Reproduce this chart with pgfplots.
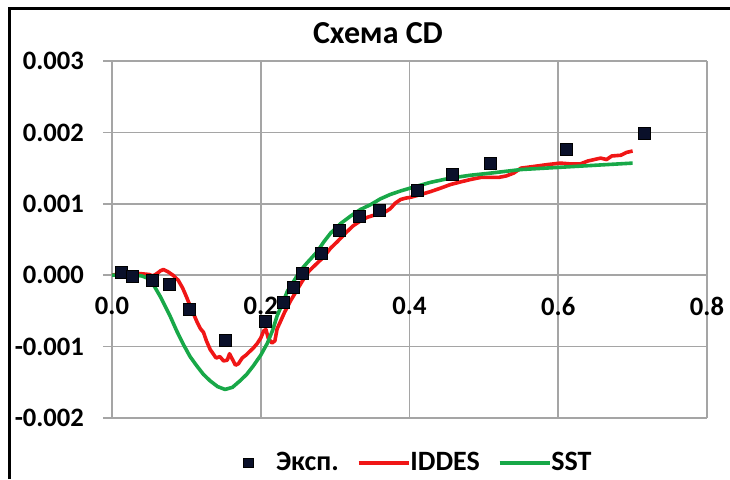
\documentclass[border=0pt]{standalone}
\usepackage{fontspec}
\setmainfont{Carlito}
\usepackage{pgfplots}
\pgfplotsset{compat=1.18}
\definecolor{redL}{RGB}{240,22,22}
\definecolor{greenL}{RGB}{24,168,72}
\definecolor{markC}{RGB}{10,16,42}
\definecolor{gridC}{RGB}{165,165,165}
\pgfplotsset{
  lineleg/.style={legend image code/.code={\draw[##1] (0pt,0pt) -- (25pt,0pt);}},
  markleg/.style={legend image code/.code={\path[draw=none,fill=none] (-5pt,0pt) -- (14pt,0pt); \path[draw=black, fill=markC, line width=0.4pt] (-2.4pt,-2.4pt) rectangle (2.4pt,2.4pt);}},
}
\begin{document}
\begin{tikzpicture}[x=1pt,y=1pt]
\path[use as bounding box] (0,0) rectangle (365,239.5);
\draw[line width=1.5pt] (4.5,0) -- (4.5,235.5) -- (365,235.5);
\node[font=\bfseries\fontsize{16}{16}\selectfont] at (189,223) {Схема CD};
\begin{axis}[
  at={(56pt,30.5pt)}, anchor=south west,
  scale only axis, width=297.5pt, height=178.5pt,
  xmin=0, xmax=0.8, ymin=-0.002, ymax=0.003,
  axis x line=middle, axis y line=left,
  axis line style={draw=gridC, line width=0.8pt, -},
  hide obscured x ticks=false, hide obscured y ticks=false,
  xtick={0,0.2,0.4,0.6,0.8},
  ytick={-0.002,-0.001,0,0.001,0.002,0.003},
  scaled ticks=false,
  grid=major, major grid style={draw=gridC, line width=0.8pt},
  tick align=outside, major tick length=4.5pt,
  x tick style={draw=none},
  y tick style={draw=gridC, line width=0.8pt},
  /pgf/number format/assume math mode=true,
  tick label style={font=\bfseries\fontsize{13.3}{13.3}\selectfont, text=black},
  xticklabel={\pgfmathprintnumber[fixed,fixed zerofill,precision=1]{\tick}},
  yticklabel={\pgfmathprintnumber[fixed,fixed zerofill,precision=3]{\tick}},
  x tick label style={yshift=-3pt},
  y tick label style={xshift=-6pt},
  legend columns=3,
  legend cell align=left,
  legend style={at={(0.212,-0.126)}, anchor=west, draw=none, fill=none,
    inner sep=0pt, outer sep=0pt,
    font=\bfseries\fontsize{14}{14}\selectfont,
    nodes={inner xsep=0pt, inner ysep=1pt},
    /tikz/every even column/.append style={column sep=9pt}},
]
\addplot[only marks, mark=square*, mark size=3pt, mark options={fill=markC, draw=black}, markleg] coordinates {
(0.013,0.00004) (0.028,-0.00001) (0.054,-0.00007) (0.077,-0.00013) (0.104,-0.00048)
(0.152,-0.00091) (0.206,-0.00064) (0.230,-0.00038) (0.244,-0.00017) (0.256,0.00002)
(0.281,0.00031) (0.306,0.00063) (0.333,0.00082) (0.360,0.00091) (0.410,0.00119)
(0.458,0.00141) (0.509,0.00156) (0.611,0.00176) (0.716,0.00198)
};
\addlegendentry{Эксп.}

\addplot[redL, line width=1.8pt, line join=round, lineleg] coordinates {
(0,0) (0.01,0.00002) (0.02,0.00001) (0.03,0.00003) (0.04,0.00002) (0.05,0.00001)
(0.055,-0.00001) (0.06,0.00002) (0.065,0.00006) (0.069,0.00008) (0.075,0.00005)
(0.082,0.00000) (0.089,-0.00007) (0.095,-0.00018) (0.100,-0.00030) (0.105,-0.00043)
(0.110,-0.00055) (0.115,-0.00067) (0.119,-0.00075) (0.123,-0.00080) (0.127,-0.00092)
(0.132,-0.00104) (0.136,-0.00110) (0.140,-0.00116) (0.145,-0.00114) (0.150,-0.00120)
(0.155,-0.00119) (0.158,-0.00110) (0.162,-0.00118) (0.166,-0.00126) (0.170,-0.00124)
(0.175,-0.00116) (0.180,-0.00112) (0.185,-0.00107) (0.190,-0.00102) (0.195,-0.00096)
(0.200,-0.00088) (0.204,-0.00078) (0.207,-0.00076) (0.210,-0.00088) (0.215,-0.00095)
(0.219,-0.00092) (0.222,-0.00075) (0.226,-0.00066) (0.232,-0.00052) (0.240,-0.00036)
(0.248,-0.00022) (0.256,-0.00008) (0.265,0.00006) (0.275,0.00016) (0.285,0.00026)
(0.294,0.00038) (0.303,0.00047) (0.314,0.00059) (0.324,0.00069) (0.334,0.00076)
(0.343,0.00081) (0.352,0.00084) (0.361,0.00086) (0.368,0.00089) (0.374,0.00093)
(0.381,0.00101) (0.388,0.00106) (0.395,0.00108) (0.401,0.00109) (0.415,0.00113)
(0.428,0.00117) (0.442,0.00122) (0.455,0.00127) (0.470,0.00131) (0.482,0.00134)
(0.496,0.00137) (0.510,0.00137) (0.520,0.00137) (0.530,0.00139) (0.540,0.00143)
(0.550,0.00150) (0.565,0.00152) (0.586,0.00155) (0.603,0.00157) (0.615,0.00156)
(0.630,0.00156) (0.640,0.00160) (0.657,0.00164) (0.665,0.00162) (0.672,0.00167)
(0.684,0.00168) (0.692,0.00172) (0.700,0.00174)
};
\addlegendentry{IDDES}

\addplot[greenL, line width=1.8pt, line join=round, lineleg] coordinates {
(0,0) (0.02,0.00001) (0.04,-0.00001) (0.05,-0.00005) (0.055,-0.00012) (0.065,-0.00030)
(0.078,-0.00057) (0.087,-0.00078) (0.096,-0.00097) (0.105,-0.00114) (0.114,-0.00127)
(0.123,-0.00139) (0.132,-0.00148) (0.142,-0.00156) (0.152,-0.00160) (0.162,-0.00157)
(0.172,-0.00148) (0.181,-0.00139) (0.190,-0.00127) (0.200,-0.00112) (0.209,-0.00095)
(0.216,-0.00077) (0.222,-0.00057) (0.229,-0.00040) (0.236,-0.00022) (0.244,-0.00009)
(0.253,0.00006) (0.262,0.00017) (0.276,0.00033) (0.285,0.00047) (0.294,0.00059)
(0.307,0.00072) (0.321,0.00083) (0.334,0.00092) (0.348,0.00099) (0.361,0.00107)
(0.374,0.00113) (0.388,0.00118) (0.401,0.00122) (0.428,0.00130) (0.455,0.00136)
(0.482,0.00140) (0.509,0.00143) (0.550,0.00148) (0.600,0.00151) (0.650,0.00154)
(0.700,0.00157)
};
\addlegendentry{SST}

\addplot[only marks, mark=square*, mark size=3pt, mark options={fill=markC, draw=black}, forget plot] coordinates {
(0.013,0.00004) (0.028,-0.00001) (0.054,-0.00007) (0.077,-0.00013) (0.104,-0.00048)
(0.152,-0.00091) (0.206,-0.00064) (0.230,-0.00038) (0.244,-0.00017) (0.256,0.00002)
(0.281,0.00031) (0.306,0.00063) (0.333,0.00082) (0.360,0.00091) (0.410,0.00119)
(0.458,0.00141) (0.509,0.00156) (0.611,0.00176) (0.716,0.00198)
};
\end{axis}
\end{tikzpicture}
\end{document}
